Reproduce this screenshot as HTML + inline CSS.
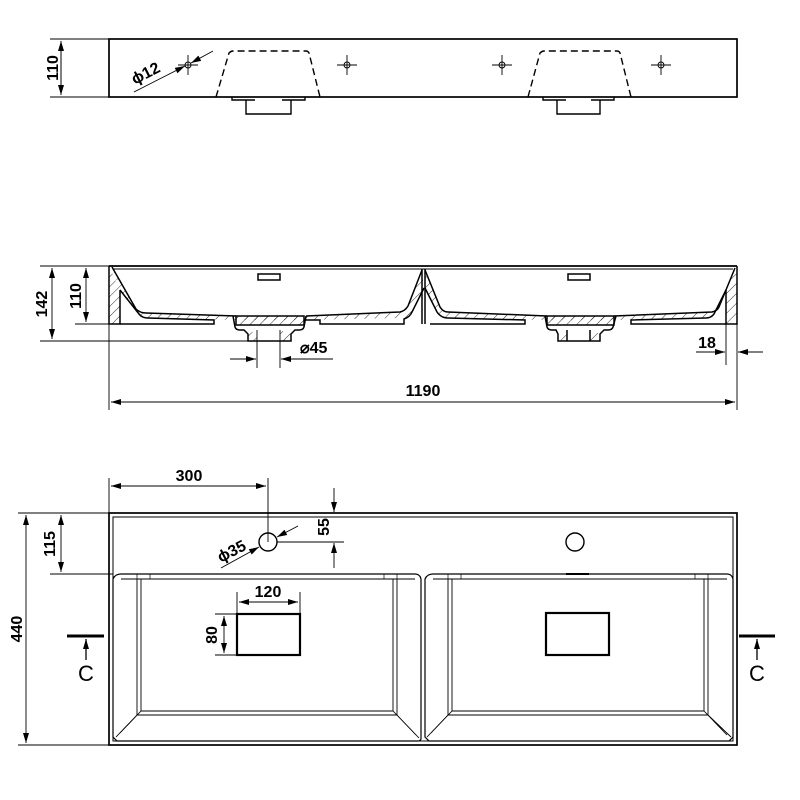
<!DOCTYPE html>
<html><head><meta charset="utf-8"><style>
html,body{margin:0;padding:0;background:#fff}
svg{display:block}
text{font-family:"Liberation Sans",sans-serif;font-weight:bold;font-size:16px;fill:#000}
</style></head><body>
<svg width="800" height="800" viewBox="0 0 800 800" xmlns="http://www.w3.org/2000/svg">
<defs>
<marker id="a" viewBox="0 0 10 6" refX="10" refY="3" markerWidth="11" markerHeight="6" orient="auto-start-reverse" markerUnits="userSpaceOnUse"><path d="M0,0L10,3L0,6z" fill="#000"/></marker>
<pattern id="h" width="7" height="7" patternUnits="userSpaceOnUse" patternTransform="rotate(45)"><line x1="0" y1="0" x2="0" y2="7" stroke="#000" stroke-width="0.8"/></pattern>
</defs>
<g fill="none" stroke="#000" stroke-width="1.4">
<!-- TOP VIEW -->
<rect x="109" y="39" width="628" height="58" stroke-width="1.7"/>
<line x1="50" y1="39" x2="109" y2="39" stroke-width="0.9"/>
<line x1="50" y1="97" x2="109" y2="97" stroke-width="0.9"/>
<line x1="61" y1="41" x2="61" y2="95" stroke-width="1" marker-start="url(#a)" marker-end="url(#a)"/>
<g stroke-width="0.9">
<circle cx="188" cy="65" r="3"/><line x1="178" y1="65" x2="198" y2="65"/><line x1="188" y1="55" x2="188" y2="75"/>
<circle cx="347" cy="65" r="3"/><line x1="337" y1="65" x2="357" y2="65"/><line x1="347" y1="55" x2="347" y2="75"/>
<circle cx="502" cy="65" r="3"/><line x1="492" y1="65" x2="512" y2="65"/><line x1="502" y1="55" x2="502" y2="75"/>
<circle cx="661" cy="65" r="3"/><line x1="651" y1="65" x2="671" y2="65"/><line x1="661" y1="55" x2="661" y2="75"/>
<line x1="134" y1="92" x2="185" y2="66" marker-end="url(#a)"/>
<line x1="213" y1="51" x2="191" y2="63" marker-end="url(#a)"/>
</g>
<path d="M216,97 L229,53 Q231,51 233,51 L306,51 Q308,51 309,53 L320,97" stroke-dasharray="7,4"/>
<path d="M528,97 L540,53 Q542,51 544,51 L617,51 Q619,51 620,53 L631,97" stroke-dasharray="7,4"/>
<path d="M232,97 L232,100 L255,100 M246,100 L246,114 L291,114 L291,100 M282,100 L305,100 L305,97"/>
<path d="M543,97 L543,100 L566,100 M557,100 L557,114 L600,114 L600,100 M591,100 L614,100 L614,97"/>

<!-- SECTION VIEW -->
<line x1="109" y1="266" x2="737" y2="266" stroke-width="1.7"/>
<line x1="113" y1="269" x2="733" y2="269" stroke-width="0.9"/>
<path d="M109,266 L109,324 L120,324 L120,290 Z" fill="url(#h)" stroke="none"/>
<path d="M737,266 L737,324 L726,324 L726,290 Z" fill="url(#h)" stroke="none"/>
<path d="M109,266 L109,324 L120,324 L120,290" stroke-width="1.5"/>
<path d="M737,266 L737,324 L726,324 L726,290" stroke-width="1.5"/>
<!-- left bowl band -->
<path d="M112,267 L136,309 Q140,313 146,313 L236,316 L306,316 L400,312 Q405,311 408,306 L422,270 L424,288 L412,312 Q409,318 402,318 L306,320 L236,320 L148,318 Q142,318 139,314 L120,290 Z" fill="url(#h)" stroke="none"/>
<path d="M112,267 L136,309 Q140,313 146,313 L236,316 M306,316 L400,312 Q405,311 408,306 L422,270" stroke-width="1.5"/>
<path d="M120,290 L139,314 Q142,318 148,318 L214,320 L214,324 L120,324 M306,320 L320,320 L320,324 L404,324 L404,319 Q410,317 412,312 L424,288" stroke-width="1.5"/>
<!-- left drain -->
<path d="M233,316 L235,327 Q236,330 240,330 L244,330 L248,334 L248,341 L291,341 L291,334 L295,330 L299,330 Q303,330 304,327 L306,316" stroke-width="1.5"/>
<rect x="236" y="316" width="68" height="9" fill="url(#h)" stroke-width="1.5"/>
<path d="M248,334 L248,341 L257,341 L257,330 Z M291,334 L291,341 L280,341 L280,330 Z" fill="url(#h)" stroke="none"/>
<line x1="257" y1="330" x2="257" y2="368" stroke-width="0.9"/>
<line x1="280" y1="330" x2="280" y2="368" stroke-width="0.9"/>
<rect x="258" y="274" width="22" height="6" stroke-width="1.5"/>
<!-- divider -->
<line x1="422" y1="269" x2="422" y2="324" stroke-width="1.5"/>
<line x1="425" y1="269" x2="425" y2="324" stroke-width="1.5"/>
<!-- right bowl band -->
<path d="M425,270 L440,307 Q443,312 448,312 L547,316 L614,316 L712,312 Q717,311 719,307 L735,268 L726,290 L714,314 Q711,318 706,318 L614,320 L547,320 L448,318 Q441,318 437,312 L425,288 Z" fill="url(#h)" stroke="none"/>
<path d="M425,270 L440,307 Q443,312 448,312 L547,316 M614,316 L712,312 Q717,311 719,307 L735,268" stroke-width="1.5"/>
<path d="M425,288 L437,312 Q441,318 448,318 L525,320 L525,324 L430,324 M726,290 L714,314 Q711,318 706,318 L631,320 L631,324 L726,324" stroke-width="1.5"/>
<path d="M545,316 L547,327 Q548,330 552,330 L556,330 L558,334 L558,341 L600,341 L600,334 L604,330 L608,330 Q612,330 613,327 L616,316" stroke-width="1.5"/>
<rect x="547" y="316" width="67" height="9" fill="url(#h)" stroke-width="1.5"/>
<path d="M558,334 L558,341 L567,341 L567,330 Z M600,334 L600,341 L590,341 L590,330 Z" fill="url(#h)" stroke="none"/>
<line x1="567" y1="330" x2="567" y2="341" stroke-width="1.5"/>
<line x1="590" y1="330" x2="590" y2="341" stroke-width="1.5"/>
<rect x="568" y="274" width="22" height="6" stroke-width="1.5"/>
<!-- section dims -->
<g stroke-width="0.9">
<line x1="40" y1="266" x2="109" y2="266"/>
<line x1="40" y1="341" x2="248" y2="341"/>
<line x1="75" y1="324" x2="109" y2="324"/>
<line x1="52" y1="268" x2="52" y2="339" marker-start="url(#a)" marker-end="url(#a)"/>
<line x1="86" y1="268" x2="86" y2="322" marker-start="url(#a)" marker-end="url(#a)"/>
<line x1="230" y1="359" x2="256" y2="359" marker-end="url(#a)"/>
<line x1="333" y1="359" x2="281" y2="359" marker-end="url(#a)"/>
<line x1="109" y1="324" x2="109" y2="410"/>
<line x1="737" y1="324" x2="737" y2="410"/>
<line x1="726" y1="324" x2="726" y2="365"/>
<line x1="696" y1="352" x2="725" y2="352" marker-end="url(#a)"/>
<line x1="763" y1="352" x2="738" y2="352" marker-end="url(#a)"/>
<line x1="111" y1="402" x2="735" y2="402" marker-start="url(#a)" marker-end="url(#a)"/>
</g>

<!-- PLAN VIEW -->
<rect x="109" y="513" width="628" height="232" stroke-width="1.7"/>
<rect x="113" y="517" width="620" height="224" stroke-width="1"/>
<circle cx="268" cy="542" r="9"/>
<circle cx="575" cy="542" r="9"/>
<!-- left bowl -->
<path d="M113,579 Q115,574 121,574 L415,574 Q420,574 421,579 L421,739 Q420,741 418,741 L117,741 L113,737 Z" stroke-width="1.2"/>
<line x1="121" y1="579" x2="415" y2="579" stroke-width="0.9"/>
<path d="M137,579 L137,715 L397,715 L397,579 M141,579 L141,711 L393,711 L393,579" stroke-width="0.9"/>
<path d="M137,715 L116,737 M397,715 L419,738 M141,711 L120,733 M393,711 L416,735" stroke-width="0.9"/>
<path d="M137,579 L137,574 M150,574 L150,579 M384,574 L384,579 M397,574 L397,579" stroke-width="0.7"/>
<!-- right bowl -->
<path d="M425,579 Q427,574 433,574 L727,574 Q732,574 733,579 L733,737 L729,741 L429,741 L425,737 Z" stroke-width="1.2"/>
<line x1="433" y1="579" x2="727" y2="579" stroke-width="0.9"/>
<path d="M448,579 L448,715 L708,715 L708,579 M452,579 L452,711 L704,711 L704,579" stroke-width="0.9"/>
<path d="M448,715 L427,737 M708,715 L731,737 M452,711 L431,733 M704,711 L727,735" stroke-width="0.9"/>
<path d="M448,579 L448,574 M461,574 L461,579 M695,574 L695,579 M708,574 L708,579" stroke-width="0.7"/>
<line x1="566" y1="574" x2="589" y2="574" stroke-width="2"/>
<rect x="237" y="614" width="63" height="41" stroke-width="2.2"/>
<rect x="546" y="613" width="63" height="42" stroke-width="2.2"/>
<!-- plan dims -->
<g stroke-width="0.9">
<line x1="109" y1="478" x2="109" y2="513"/>
<line x1="268" y1="478" x2="268" y2="542"/>
<line x1="111" y1="486" x2="266" y2="486" marker-start="url(#a)" marker-end="url(#a)"/>
<line x1="18" y1="513" x2="109" y2="513"/>
<line x1="18" y1="745" x2="109" y2="745"/>
<line x1="50" y1="574" x2="113" y2="574"/>
<line x1="26" y1="515" x2="26" y2="743" marker-start="url(#a)" marker-end="url(#a)"/>
<line x1="61" y1="515" x2="61" y2="572" marker-start="url(#a)" marker-end="url(#a)"/>
<line x1="277" y1="542" x2="344" y2="542"/>
<line x1="334" y1="488" x2="334" y2="512" marker-end="url(#a)"/>
<line x1="334" y1="568" x2="334" y2="543" marker-end="url(#a)"/>
<line x1="221" y1="568" x2="259" y2="547" marker-end="url(#a)"/>
<line x1="298" y1="526" x2="277" y2="537" marker-end="url(#a)"/>
<line x1="237" y1="592" x2="237" y2="614"/>
<line x1="300" y1="592" x2="300" y2="614"/>
<line x1="239" y1="602" x2="298" y2="602" marker-start="url(#a)" marker-end="url(#a)"/>
<line x1="215" y1="614" x2="237" y2="614"/>
<line x1="215" y1="655" x2="237" y2="655"/>
<line x1="224" y1="616" x2="224" y2="653" marker-start="url(#a)" marker-end="url(#a)"/>
</g>
<!-- section markers C -->
<line x1="67" y1="636" x2="104" y2="636" stroke-width="3"/>
<line x1="86" y1="660" x2="86" y2="639" stroke-width="1.3" marker-end="url(#a)"/>
<line x1="739" y1="636" x2="775" y2="636" stroke-width="3"/>
<line x1="757" y1="660" x2="757" y2="639" stroke-width="1.3" marker-end="url(#a)"/>
</g>
<!-- text -->
<text x="53" y="68" transform="rotate(-90 53 68)" text-anchor="middle" dy="5">110</text>
<text x="148" y="78" transform="rotate(-27 148 78)" text-anchor="middle">ϕ12</text>
<text x="42" y="304" transform="rotate(-90 42 304)" text-anchor="middle" dy="5">142</text>
<text x="76" y="296" transform="rotate(-90 76 296)" text-anchor="middle" dy="5">110</text>
<text x="300" y="353">⌀45</text>
<text x="707" y="348" text-anchor="middle">18</text>
<text x="423" y="396" text-anchor="middle">1190</text>
<text x="189" y="481" text-anchor="middle">300</text>
<text x="17" y="629" transform="rotate(-90 17 629)" text-anchor="middle" dy="5">440</text>
<text x="50" y="544" transform="rotate(-90 50 544)" text-anchor="middle" dy="5">115</text>
<text x="324" y="527" transform="rotate(-90 324 527)" text-anchor="middle" dy="5">55</text>
<text x="234" y="556" transform="rotate(-27 234 556)" text-anchor="middle">ϕ35</text>
<text x="268" y="597" text-anchor="middle">120</text>
<text x="212" y="635" transform="rotate(-90 212 635)" text-anchor="middle" dy="5">80</text>
<text x="86" y="681" text-anchor="middle" style="font-weight:normal;font-size:22px">C</text>
<text x="757" y="681" text-anchor="middle" style="font-weight:normal;font-size:22px">C</text>
</svg>
</body></html>
